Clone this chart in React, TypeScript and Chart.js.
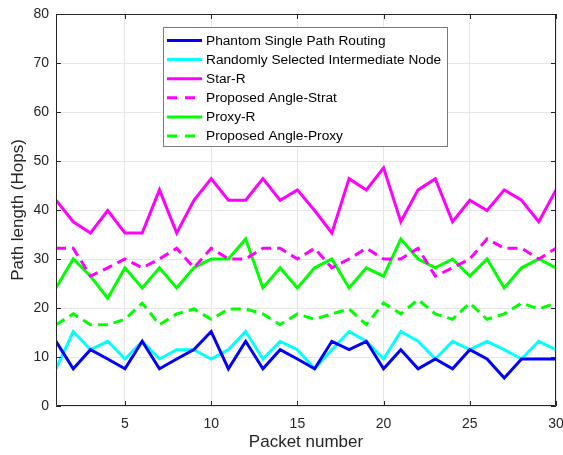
import React, { useEffect, useRef } from 'react';
import { Chart, registerables } from 'chart.js';

Chart.register(...registerables);

const packets = [1, 2, 3, 4, 5, 6, 7, 8, 9, 10, 11, 12, 13, 14, 15, 16, 17, 18, 19, 20, 21, 22, 23, 24, 25, 26, 27, 28, 29, 30];
const xTicks = [5, 10, 15, 20, 25, 30];

const phantomSingle = [13.2, 7.6, 11.5, 9.6, 7.6, 13.2, 7.6, 9.6, 11.5, 15.2, 7.6, 13.2, 7.6, 11.5, 9.6, 7.6, 13.2, 11.5, 13.2, 7.6, 11.5, 7.6, 9.6, 7.6, 11.5, 9.6, 5.7, 9.6, 9.6, 9.6];
const randomIntermediate = [7.6, 15.2, 11.5, 13.2, 9.6, 13.2, 9.6, 11.5, 11.5, 9.6, 11.5, 15.2, 9.6, 13.2, 11.5, 7.6, 11.5, 15.2, 13.2, 9.6, 15.2, 13.2, 9.6, 13.2, 11.5, 13.2, 11.5, 9.6, 13.2, 11.5];
const starR = [42, 37.6, 35.3, 39.9, 35.3, 35.3, 44.1, 35.3, 42, 46.4, 42, 42, 46.4, 42, 44.1, 39.9, 35.3, 46.4, 44.1, 48.6, 37.6, 44.1, 46.4, 37.6, 42, 39.9, 44.1, 42, 37.6, 44.1];
const angleStrat = [32.2, 32.2, 26.5, 28.2, 30, 28.2, 30, 32.2, 28.2, 32.2, 30, 30, 32.2, 32.2, 30, 32.2, 28.2, 30, 32.2, 30, 30, 32.2, 26.5, 28.2, 30, 34.1, 32.2, 32.2, 30, 32.2];
const proxyR = [24.1, 30, 26.5, 22, 28.2, 24.1, 28.2, 24.1, 28.2, 30, 30, 34.1, 24.1, 28.2, 24.1, 28.2, 30, 24.1, 28.2, 26.5, 34.1, 30, 28.2, 30, 26.5, 30, 24.1, 28.2, 30, 28.2];
const angleProxy = [16.6, 18.8, 16.6, 16.6, 17.7, 21, 16.6, 18.8, 19.8, 17.7, 19.8, 19.8, 18.8, 16.6, 18.8, 17.7, 18.8, 19.8, 16.6, 21, 18.8, 21.7, 18.8, 17.7, 21, 17.7, 18.8, 21, 19.8, 21];

const FONT = '"Liberation Sans", Arial, Helvetica, sans-serif';
const AXIS_COLOR = '#262626';

const toPoints = (vals: number[]) => packets.map((p, i) => ({ x: p, y: vals[i] }));

const framePlugin = {
  id: 'frameTicks',
  afterDatasetsDraw(chart: any) {
    const { ctx, chartArea, scales } = chart;
    const { left, right, top, bottom } = chartArea;
    ctx.save();
    ctx.strokeStyle = AXIS_COLOR;
    ctx.lineWidth = 1;
    ctx.beginPath();
    ctx.rect(Math.round(left) + 0.5, Math.round(top) + 0.5, Math.round(right - left) - 1, Math.round(bottom - top) - 1);
    ctx.stroke();
    const tl = 5;
    ctx.beginPath();
    scales.x.ticks.forEach((t: any) => {
      const px = Math.round(scales.x.getPixelForValue(t.value)) + 0.5;
      ctx.moveTo(px, bottom);
      ctx.lineTo(px, bottom - tl);
      ctx.moveTo(px, top);
      ctx.lineTo(px, top + tl);
    });
    scales.y.ticks.forEach((t: any) => {
      const py = Math.round(scales.y.getPixelForValue(t.value)) + 0.5;
      ctx.moveTo(left, py);
      ctx.lineTo(left + tl, py);
      ctx.moveTo(right, py);
      ctx.lineTo(right - tl, py);
    });
    ctx.stroke();
    ctx.restore();
  },
};

const legendPlugin = {
  id: 'boxLegend',
  afterDraw(chart: any) {
    const { ctx } = chart;
    const ds = chart.data.datasets;
    ctx.save();
    ctx.font = '13.7px ' + FONT;
    const x0 = 163;
    const y0 = 27;
    const firstY = 40.5;
    const rowH = 19.1;
    const lineX1 = 167;
    const lineX2 = 202;
    const textX = 206;
    let maxW = 0;
    ds.forEach((d: any) => {
      maxW = Math.max(maxW, ctx.measureText(d.label).width);
    });
    const w = Math.round(textX + maxW + 6 - x0);
    const h = 119;
    ctx.fillStyle = '#ffffff';
    ctx.fillRect(x0, y0, w, h);
    ctx.strokeStyle = '#7a7a7a';
    ctx.lineWidth = 1;
    ctx.strokeRect(x0 + 0.5, y0 + 0.5, w, h);
    ds.forEach((d: any, i: number) => {
      const y = firstY + i * rowH;
      ctx.beginPath();
      ctx.setLineDash(d.borderDash && d.borderDash.length ? [10, 8] : []);
      ctx.strokeStyle = d.borderColor;
      ctx.lineWidth = 3;
      ctx.moveTo(lineX1, y);
      ctx.lineTo(lineX2, y);
      ctx.stroke();
      ctx.setLineDash([]);
      ctx.fillStyle = '#000000';
      ctx.textBaseline = 'middle';
      ctx.textAlign = 'left';
      ctx.fillText(d.label, textX, y + 0.5);
    });
    ctx.restore();
  },
};

const bgPlugin = {
  id: 'whiteBg',
  beforeDraw(chart: any) {
    const { ctx, width, height } = chart;
    ctx.save();
    ctx.fillStyle = '#ffffff';
    ctx.fillRect(0, 0, width, height);
    ctx.restore();
  },
};

export default function App() {
  const canvasRef = useRef<HTMLCanvasElement | null>(null);

  useEffect(() => {
    if (!canvasRef.current) return;
    const mk = (label: string, vals: number[], color: string, dashed: boolean) => ({
      label,
      data: toPoints(vals),
      borderColor: color,
      backgroundColor: color,
      borderWidth: 3,
      borderDash: dashed ? [10, 6] : [],
      pointRadius: 0,
      pointHoverRadius: 0,
      tension: 0,
      fill: false,
    });
    const chart = new Chart(canvasRef.current, {
      type: 'line',
      data: {
        datasets: [
          mk('Phantom Single Path Routing', phantomSingle, '#0000ff', false),
          mk('Randomly Selected Intermediate Node', randomIntermediate, '#00ffff', false),
          mk('Star-R', starR, '#ff00ff', false),
          mk('Proposed Angle-Strat', angleStrat, '#ff00ff', true),
          mk('Proxy-R', proxyR, '#00ff00', false),
          mk('Proposed Angle-Proxy', angleProxy, '#00ff00', true),
        ],
      },
      options: {
        animation: false,
        responsive: false,
        devicePixelRatio: 1,
        layout: { padding: { top: 14, right: 7, bottom: 0, left: 0 } },
        plugins: {
          legend: { display: false },
          tooltip: { enabled: false },
        },
        scales: {
          x: {
            type: 'linear',
            min: 1,
            max: 30,
            afterBuildTicks: (s: any) => {
              s.ticks = xTicks.map((v) => ({ value: v }));
            },
            afterFit: (s: any) => {
              s.height = 49;
              s.paddingLeft = 0;
              s.paddingRight = 0;
            },
            ticks: {
              color: AXIS_COLOR,
              font: { size: 14, family: FONT },
              padding: 10,
              maxRotation: 0,
              autoSkip: false,
            },
            grid: { color: '#e6e6e6', drawTicks: false },
            border: { display: false },
            title: {
              display: true,
              text: 'Packet number',
              color: AXIS_COLOR,
              font: { size: 17, family: FONT },
              padding: { top: 0, bottom: 2 },
            },
          },
          y: {
            min: 0,
            max: 80,
            afterFit: (s: any) => {
              s.width = 56;
              s.paddingTop = 0;
              s.paddingBottom = 0;
            },
            ticks: {
              stepSize: 10,
              color: AXIS_COLOR,
              font: { size: 14, family: FONT },
              padding: 7,
            },
            grid: { color: '#e6e6e6', drawTicks: false },
            border: { display: false },
            title: {
              display: true,
              text: 'Path length (Hops)',
              color: AXIS_COLOR,
              font: { size: 17, family: FONT },
              padding: { top: 8, bottom: 0 },
            },
          },
        },
      },
      plugins: [bgPlugin, framePlugin, legendPlugin],
    } as any);
    return () => chart.destroy();
  }, []);

  return (
    <div style={{ position: 'fixed', left: 0, top: 0, width: 563, height: 455, background: '#fff' }}>
      <canvas ref={canvasRef} width={563} height={455} style={{ display: 'block', width: 563, height: 455 }} />
    </div>
  );
}
